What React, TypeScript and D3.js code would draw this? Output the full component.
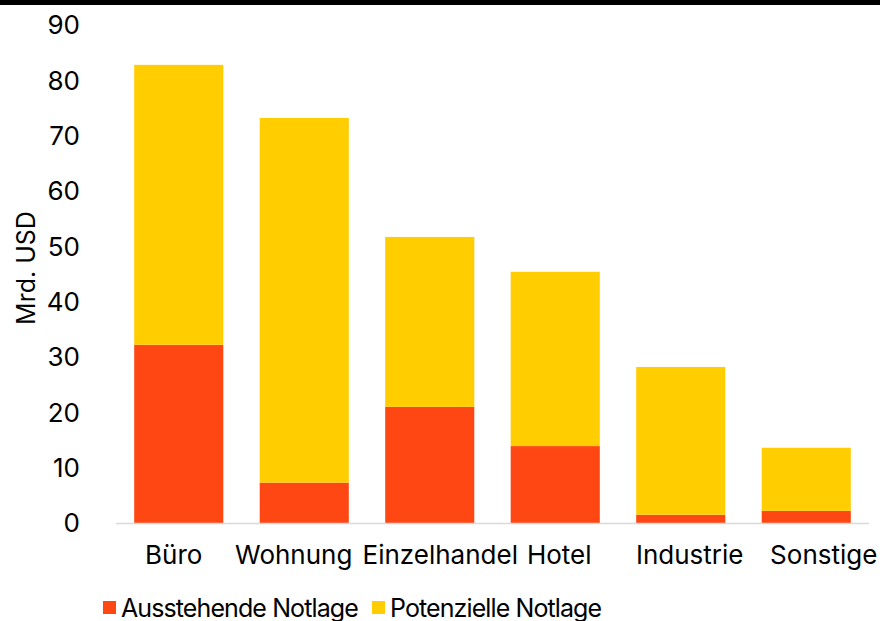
import React, { useEffect, useRef } from 'react';
import * as d3 from 'd3';

// Sectors and stacked values (Mrd. USD)
const categories = ['Büro', 'Wohnung', 'Einzelhandel', 'Hotel', 'Industrie', 'Sonstige'];
const ausstehend = [32.2, 7.3, 21.0, 13.9, 1.5, 2.2];
const potenziell = [50.6, 65.9, 30.7, 31.5, 26.7, 11.4];
const yTicks = [0, 10, 20, 30, 40, 50, 60, 70, 80, 90];
const seriesNames = ['Ausstehende Notlage', 'Potenzielle Notlage'];

// label nudges (px) so the category texts sit where the original put them
const labelNudge = [-5, -10.5, 10.5, 4, 9, 17.5];

const W = 880;
const H = 621;
const COLORS = ['#FF4713', '#FFCD00'];
const FONT = 'Inter, "Noto Sans", sans-serif';

export default function App() {
  const svgRef = useRef<SVGSVGElement>(null);

  useEffect(() => {
    if (!svgRef.current) return;
    const svg = d3.select(svgRef.current);
    svg.selectAll('*').remove();

    const margin = { left: 116, right: 11, top: 25, bottom: 98 };
    const innerW = W - margin.left - margin.right;
    const innerH = H - margin.top - margin.bottom;

    const x = d3.scaleBand<string>()
      .domain(categories)
      .range([0, innerW])
      .paddingInner(0.29)
      .paddingOuter(0.145);

    const y = d3.scaleLinear().domain([0, 90]).range([innerH, 0]);

    // top black rule
    svg.append('rect')
      .attr('x', 0).attr('y', 0)
      .attr('width', W).attr('height', 5)
      .attr('fill', '#000');

    const g = svg.append('g')
      .attr('transform', `translate(${margin.left},${margin.top})`);

    const rows = categories.map((c, i) => ({ cat: c, a: ausstehend[i], p: potenziell[i] }));
    const stack = d3.stack<any>().keys(['a', 'p'])(rows);

    stack.forEach((layer, li) => {
      g.append('g')
        .selectAll('rect')
        .data(layer)
        .enter()
        .append('rect')
        .attr('x', d => x(d.data.cat) as number)
        .attr('width', x.bandwidth())
        .attr('y', d => y(d[1]))
        .attr('height', d => y(d[0]) - y(d[1]))
        .attr('fill', COLORS[li]);
    });

    // baseline
    g.append('line')
      .attr('x1', 0).attr('x2', innerW)
      .attr('y1', y(0) + 0.5).attr('y2', y(0) + 0.5)
      .attr('stroke', '#d9d9d9')
      .attr('stroke-width', 1.5);

    // y tick labels
    g.selectAll('.ytick')
      .data(yTicks)
      .enter()
      .append('text')
      .attr('x', 80 - margin.left)
      .attr('y', d => y(d))
      .attr('dy', '0.36em')
      .attr('text-anchor', 'end')
      .attr('font-family', FONT)
      .attr('font-size', 26)
      .attr('fill', '#000')
      .text(d => d);

    // category labels
    g.selectAll('.xlabel')
      .data(categories)
      .enter()
      .append('text')
      .attr('x', (d, i) => (x(d) as number) + x.bandwidth() / 2 + labelNudge[i])
      .attr('y', 564 - margin.top)
      .attr('text-anchor', 'middle')
      .attr('font-family', FONT)
      .attr('font-size', 26)
      .attr('fill', '#000')
      .text(d => d);

    // y axis title
    svg.append('text')
      .attr('transform', `translate(35,268) rotate(-90)`)
      .attr('text-anchor', 'middle')
      .attr('font-family', FONT)
      .attr('font-size', 25)
      .attr('fill', '#000')
      .text('Mrd. USD');

    // legend
    const legendX = [103, 372];
    seriesNames.forEach((name, i) => {
      svg.append('rect')
        .attr('x', legendX[i]).attr('y', 601)
        .attr('width', 13).attr('height', 13)
        .attr('fill', COLORS[i]);
      svg.append('text')
        .attr('x', legendX[i] + 18)
        .attr('y', 617)
        .attr('font-family', FONT)
        .attr('font-size', 25)
        .attr('letter-spacing', -0.9)
        .attr('fill', '#000')
        .text(name);
    });
  }, []);

  return (
    <div style={{ position: 'absolute', left: 0, top: 0 }}>
      <svg ref={svgRef} width={W} height={H} style={{ display: 'block' }} />
    </div>
  );
}
